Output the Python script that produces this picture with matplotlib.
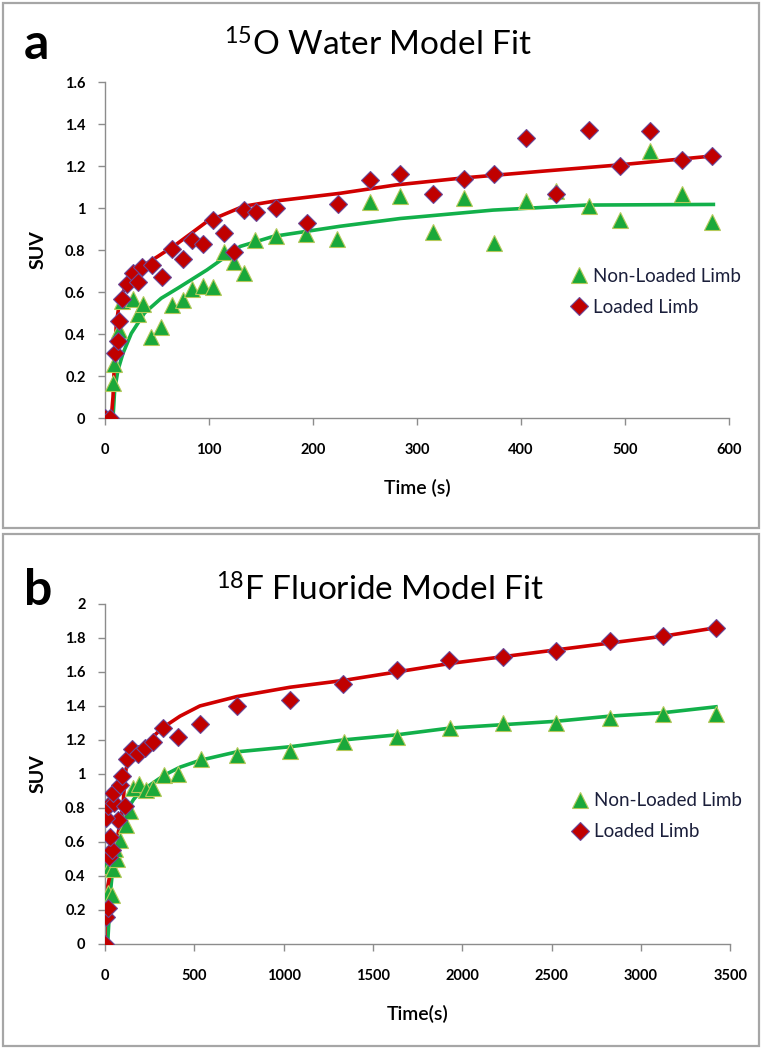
import matplotlib
matplotlib.use("Agg")
import matplotlib.pyplot as plt
from matplotlib.patches import Rectangle
from matplotlib.lines import Line2D

plt.rcParams['font.family'] = ['Lato', 'DejaVu Sans']
plt.rcParams['mathtext.fontset'] = 'custom'
plt.rcParams['mathtext.rm'] = 'Lato'
plt.rcParams['mathtext.it'] = 'Lato'
plt.rcParams['mathtext.bf'] = 'Lato:bold'

# ---- panel a: 15O water ----
a_green_t = [0, 5, 8, 9, 13, 16, 27, 32, 37, 44, 54, 64, 75, 84, 94, 104, 114, 124, 134,
             144, 164, 193, 223, 255, 284, 315, 345, 374, 405, 434, 465, 495, 524, 555, 584]
a_green_v = [0, 0, 0.165, 0.255, 0.42, 0.557, 0.565, 0.494, 0.543, 0.387, 0.435, 0.54, 0.563,
             0.614, 0.628, 0.625, 0.79, 0.745, 0.69, 0.848, 0.868, 0.874, 0.852, 1.027, 1.056,
             0.884, 1.049, 0.832, 1.032, 1.081, 1.008, 0.943, 1.271, 1.065, 0.932]

a_red_t = [0, 5, 9.6, 12.8, 13.8, 16.7, 21.5, 26.6, 32, 36, 45, 54.5, 64.7, 74.6, 84, 94.5,
           104, 114, 124, 134, 145, 164, 194, 224, 255, 284, 315, 345, 374, 405, 434, 465,
           495, 524, 555, 584]
a_red_v = [0, 0, 0.31, 0.366, 0.46, 0.565, 0.638, 0.69, 0.65, 0.717, 0.73, 0.67, 0.805, 0.757,
           0.85, 0.827, 0.943, 0.88, 0.79, 0.989, 0.98, 0.998, 0.93, 1.02, 1.133, 1.162, 1.067,
           1.137, 1.16, 1.332, 1.065, 1.371, 1.198, 1.368, 1.229, 1.248]

a_green_fit_t = [7.7, 9.3, 12.5, 17.3, 25.3, 38, 54, 70, 98, 130, 162, 226, 284, 373, 463, 585]
a_green_fit_v = [0, 0.133, 0.229, 0.308, 0.403, 0.5, 0.57, 0.618, 0.705, 0.817, 0.865, 0.913,
                 0.95, 0.99, 1.014, 1.017]
a_red_fit_t = [6, 7.7, 9.3, 10.9, 14, 22, 35, 51, 68, 98, 133, 162, 226, 280, 344, 420, 494, 585]
a_red_fit_v = [0, 0.1, 0.29, 0.45, 0.555, 0.657, 0.72, 0.77, 0.825, 0.935, 1.008, 1.032, 1.07,
               1.11, 1.143, 1.175, 1.205, 1.248]

# ---- panel b: 18F fluoride ----
b_green_t = [0, 19, 37, 9, 3, 26, 43, 65, 55, 84, 117, 140, 155, 192, 230, 267, 330, 410, 535,
             740, 1035, 1337, 1636, 1931, 2229, 2526, 2824, 3122, 3419]
b_green_v = [0, 0.30, 0.29, 0.50, 0.49, 0.46, 0.44, 0.50, 0.56, 0.61, 0.70, 0.78, 0.915, 0.94,
             0.905, 0.915, 0.995, 1.0, 1.09, 1.11, 1.135, 1.19, 1.22, 1.27, 1.30, 1.30, 1.33,
             1.35, 1.35]

b_red_t = [0, 3, 19, 25, 37, 28, 74, 3, 18, 50, 112, 47, 84, 93, 121, 149, 187, 224, 267, 323,
           410, 531, 737, 1035, 1334, 1632, 1927, 2229, 2526, 2824, 3122, 3419]
b_red_v = [0, 0.16, 0.21, 0.51, 0.55, 0.63, 0.73, 0.74, 0.81, 0.83, 0.81, 0.89, 0.935, 0.99,
           1.09, 1.145, 1.12, 1.15, 1.19, 1.27, 1.215, 1.295, 1.40, 1.435, 1.53, 1.61, 1.67,
           1.69, 1.725, 1.78, 1.81, 1.86]

b_green_fit_t = [15, 22, 30, 45, 65, 85, 105, 130, 160, 200, 245, 300, 345, 420, 531, 737,
                 1035, 1334, 1632, 1931, 2229, 2526, 2824, 3122, 3419]
b_green_fit_v = [0, 0.14, 0.30, 0.46, 0.58, 0.66, 0.74, 0.80, 0.85, 0.90, 0.93, 0.97, 1.0,
                 1.04, 1.08, 1.13, 1.16, 1.20, 1.23, 1.27, 1.29, 1.31, 1.34, 1.36, 1.395]
b_red_fit_t = [0, 2, 15, 35, 55, 77, 95, 103, 110, 118, 135, 166, 220, 270, 320, 420, 531, 737,
               1035, 1334, 1632, 1931, 2229, 2526, 2824, 3122, 3419]
b_red_fit_v = [0, 0.22, 0.34, 0.44, 0.55, 0.67, 0.78, 0.85, 0.95, 1.03, 1.08, 1.12, 1.17, 1.22,
               1.27, 1.34, 1.40, 1.455, 1.51, 1.55, 1.60, 1.65, 1.69, 1.73, 1.77, 1.81, 1.86]

GREEN = "#1aa83a"
GREEN_LINE = "#12b04a"
RED = "#c00000"
RED_LINE = "#d00000"
AXIS_GRAY = "#8c8c8c"
TEXT_NAVY = "#1b1f3b"

TRI = dict(ls="none", marker="^", ms=12, mfc=GREEN, mec="#b5c95a", mew=0.8)
DIA = dict(ls="none", marker="D", ms=9.5, mfc=RED, mec="#6a4a9a", mew=0.8)


def draw_panel(ax, gt, gv, rt, rv, gft, gfv, rft, rfv, xmax, xstep, ymax, ystep, xlabel):
    ax.plot(gft, gfv, color=GREEN_LINE, lw=2.6, zorder=2)
    ax.plot(rft, rfv, color=RED_LINE, lw=2.6, zorder=2)
    ax.plot(gt, gv, zorder=3, **TRI)
    ax.plot(rt, rv, zorder=4, **DIA)

    ax.set_xlim(0, xmax)
    ax.set_ylim(0, ymax)
    xt = [i * xstep for i in range(int(round(xmax / xstep)) + 1)]
    yt = [round(i * ystep, 1) for i in range(int(round(ymax / ystep)) + 1)]
    ax.set_xticks(xt)
    ax.set_yticks(yt)
    ax.set_yticklabels(["%g" % v for v in yt])
    for s in ["top", "right"]:
        ax.spines[s].set_visible(False)
    for s in ["left", "bottom"]:
        ax.spines[s].set_color(AXIS_GRAY)
        ax.spines[s].set_linewidth(1.0)
    ax.tick_params(direction="out", length=5, width=1.0, color=AXIS_GRAY, labelsize=10.5)
    ax.tick_params(axis="x", pad=13)
    ax.tick_params(axis="y", pad=9)
    for lab in ax.get_xticklabels() + ax.get_yticklabels():
        lab.set_fontweight("bold")
    ax.set_ylabel("SUV", fontsize=14, fontweight="bold", labelpad=13)
    ax.set_xlabel(xlabel, fontsize=14, fontweight="semibold", labelpad=16)
    for sp in ax.spines.values():
        sp.set_clip_on(False)

    handles = [Line2D([], [], **TRI), Line2D([], [], **DIA)]
    leg = ax.legend(handles, ["Non-Loaded Limb", "Loaded Limb"], loc="center left",
                    bbox_to_anchor=(0.72, 0.376), frameon=False, fontsize=13.5,
                    handlelength=0.8, handletextpad=0.35, labelspacing=0.75)
    for t in leg.get_texts():
        t.set_color(TEXT_NAVY)


fig = plt.figure(figsize=(7.63, 10.5), dpi=100)

# panel boxes
fig.patches.append(Rectangle((0.004, 0.497), 0.991, 0.5, transform=fig.transFigure,
                             fill=False, ec="#a6a6a6", lw=1.6))
fig.patches.append(Rectangle((0.004, 0.004), 0.991, 0.487, transform=fig.transFigure,
                             fill=False, ec="#a6a6a6", lw=1.6))

ax_a = fig.add_axes([0.1376, 0.6019, 0.8178, 0.3200])
draw_panel(ax_a, a_green_t, a_green_v, a_red_t, a_red_v, a_green_fit_t, a_green_fit_v,
           a_red_fit_t, a_red_fit_v, 600, 100, 1.6, 0.2, "Time (s)")

ax_b = fig.add_axes([0.1376, 0.1010, 0.8197, 0.3238])
draw_panel(ax_b, b_green_t, b_green_v, b_red_t, b_red_v, b_green_fit_t, b_green_fit_v,
           b_red_fit_t, b_red_fit_v, 3500, 500, 2.0, 0.2, "Time(s)")

fig.text(0.031, 0.958, "a", fontsize=36, fontweight="bold", va="center")
fig.text(0.496, 0.957, r"$^{15}$O Water Model Fit", fontsize=24, ha="center", va="center")
fig.text(0.031, 0.438, "b", fontsize=36, fontweight="bold", va="center")
fig.text(0.498, 0.438, r"$^{18}$F Fluoride Model Fit", fontsize=24, ha="center", va="center")

fig.savefig("out.png", dpi=100)
